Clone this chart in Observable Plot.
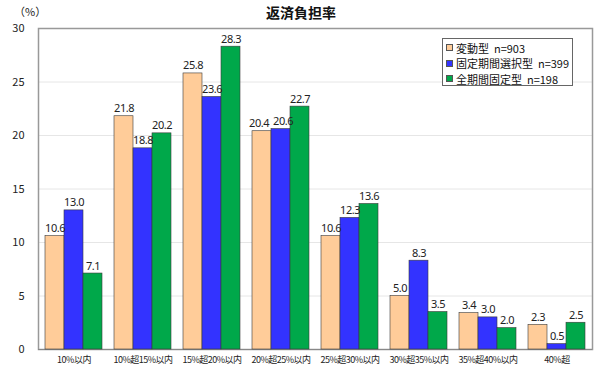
<!DOCTYPE html>
<html>
<head>
<meta charset="utf-8">
<script src="https://cdn.jsdelivr.net/npm/d3@7"></script>
<script src="https://cdn.jsdelivr.net/npm/@observablehq/plot@0.6"></script>
<style>
  body { margin: 0; background: #fff; font-family: "Noto Sans CJK JP", "Noto Sans", sans-serif; }
  #wrap { position: relative; width: 602px; height: 369px; overflow: hidden; }
  #wrap svg { position: absolute; left: 0; top: 0; }
  #title { position: absolute; left: 0; width: 602px; top: 2px; text-align: center; font-size: 14px; font-weight: bold; color: #111; }
  #unit { position: absolute; left: 14px; top: 3px; font-size: 11px; color: #222; }
  #legend { position: absolute; left: 442px; top: 38px; width: 131px; height: 48px; border: 1px solid #666; background: #fff; font-size: 11px; color: #111; padding-top: 1px; box-sizing: border-box; }
  #legend .row { display: flex; align-items: center; height: 15.5px; padding-left: 3px; white-space: nowrap; }
  #legend .sw { flex: 0 0 auto; width: 5px; height: 5px; border: 1px solid #555; margin-right: 3px; }
  #legend .lab { white-space: pre; }
</style>
</head>
<body>
<div id="wrap">
  <div id="title">返済負担率</div>
  <div id="unit">（%）</div>
  <div id="legend"></div>
</div>
<script>
const categories = ["10%以内", "10%超15%以内", "15%超20%以内", "20%超25%以内", "25%超30%以内", "30%超35%以内", "35%超40%以内", "40%超"];
const series = ["変動型", "固定期間選択型", "全期間固定型"];
const counts = [903, 399, 198];
const hendo = [10.6, 21.8, 25.8, 20.4, 10.6, 5.0, 3.4, 2.3];
const koteiSentaku = [13.0, 18.8, 23.6, 20.6, 12.3, 8.3, 3.0, 0.5];
const zenkikan = [7.1, 20.2, 28.3, 22.7, 13.6, 3.5, 2.0, 2.5];
const yTicks = [0, 5, 10, 15, 20, 25, 30];
const colors = ["#ffcc99", "#3333ff", "#00a84a"];

const values = [hendo, koteiSentaku, zenkikan];
const data = [];
categories.forEach((c, i) => {
  const group = series.map((s, j) => ({category: c, series: s, value: values[j][i], shift: 0}));
  // push apart two-digit labels of neighbouring bars with nearly equal heights
  for (let j = 0; j < group.length - 1; j++) {
    const a = group[j], b = group[j + 1];
    if (Math.abs(a.value - b.value) < 1 && a.value >= 10 && b.value >= 10) { a.shift = -3; b.shift = 2; }
  }
  data.push(...group);
});

const W = 602, H = 369;
const margins = {marginLeft: 38, marginRight: 10, marginTop: 28, marginBottom: 20};
const font = "'Noto Sans CJK JP', 'Noto Sans', sans-serif";

const back = Plot.plot({
  width: W, height: H, ...margins,
  style: {fontFamily: font, fontSize: "11px", color: "#222", background: "transparent"},
  x: {axis: null, domain: [0, 1]},
  y: {domain: [0, 30], axis: null},
  marks: [
    Plot.ruleY(yTicks, {stroke: "#e6e6e6", strokeWidth: 1}),
    Plot.axisY(yTicks, {tickSize: 0, tickPadding: 14, fontSize: 11, label: null, tickFormat: d => String(d)}),
    Plot.frame({stroke: "#999", strokeWidth: 1.5}),
    Plot.ruleY([0], {stroke: "#888", strokeWidth: 1.2})
  ]
});

const textOpts = {fx: "category", x: "series", y: "value", text: d => d.value.toFixed(1), lineAnchor: "bottom", dy: -4, fontSize: 11, fill: "#222", fontFamily: "'Noto Sans', sans-serif", style: "letter-spacing:0.4px"};
const fore = Plot.plot({
  width: W, height: H, ...margins,
  style: {fontFamily: font, fontSize: "9px", color: "#222", background: "transparent", letterSpacing: "-0.5px"},
  fx: {domain: categories, paddingInner: 0.14, paddingOuter: 0.07, label: null, axis: "bottom", tickSize: 0, tickPadding: 7},
  x: {domain: series, axis: null, padding: 0},
  y: {domain: [0, 30], axis: null},
  color: {domain: series, range: colors},
  marks: [
    Plot.barY(data, {fx: "category", x: "series", y: "value", fill: "series", stroke: "#3a3a3a", strokeWidth: 0.6}),
    ...[-3, 0, 2].map(s => Plot.text(data.filter(d => d.shift === s), {...textOpts, dx: s}))
  ]
});
const wrap = document.getElementById("wrap");
wrap.insertBefore(back, wrap.firstChild);
wrap.insertBefore(fore, back.nextSibling);

const legend = document.getElementById("legend");
series.forEach((s, i) => {
  const row = document.createElement("div");
  row.className = "row";
  const sw = document.createElement("span");
  sw.className = "sw";
  sw.style.background = colors[i];
  const label = document.createElement("span");
  label.className = "lab";
  label.textContent = `${s}  n=${counts[i]}`;
  row.appendChild(sw);
  row.appendChild(label);
  legend.appendChild(row);
});
</script>
</body>
</html>
